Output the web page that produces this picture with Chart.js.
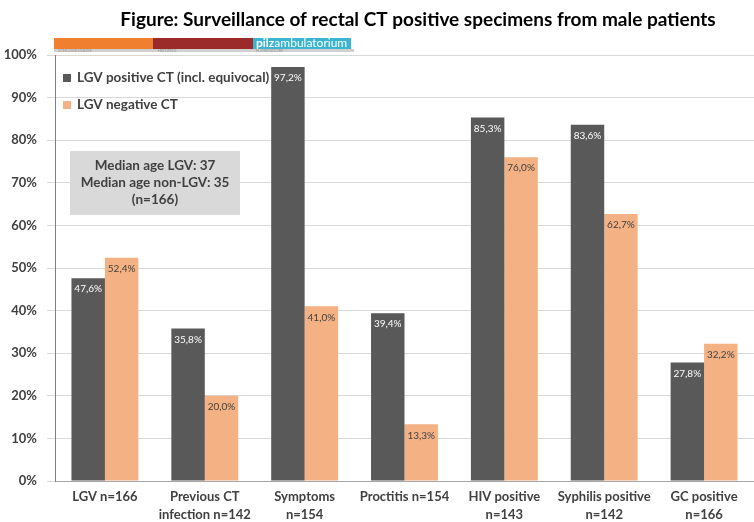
<!DOCTYPE html>
<html>
<head>
<meta charset="utf-8">
<script src="https://cdn.jsdelivr.net/npm/chart.js@4"></script>
<style>
  html,body{margin:0;padding:0;background:#fff;}
  #wrap{width:754px;height:522px;position:relative;}
</style>
</head>
<body>
<div id="wrap"><canvas id="chart" width="754" height="522"></canvas></div>
<script>
// DATA
const categories=[['LGV n=166'],['Previous CT','infection n=142'],['Symptoms','n=154'],['Proctitis n=154'],['HIV positive','n=143'],['Syphilis positive','n=142'],['GC positive','n=166']];
const lgvPositive=[47.6,35.8,97.2,39.4,85.3,83.6,27.8];
const lgvNegative=[52.4,20.0,41.0,13.3,76.0,62.7,32.2];
const seriesNames=['LGV positive CT (incl. equivocal)','LGV negative CT'];
const yTicks=[0,10,20,30,40,50,60,70,80,90,100];
const titleText='Figure: Surveillance of rectal CT positive specimens from male patients';
const boxLines=['Median age LGV: 37','Median age non-LGV: 35','(n=166)'];

const FONT='Lato,"Liberation Sans",Arial,sans-serif';
const DARK='#595959', PEACH='#F4B183', TXT='#404040';

// title, logo strip, legend and note box
const decor={
  id:'decor',
  afterDraw(chart){
    const c=chart.ctx;
    c.save();
    c.fillStyle='#000';
    c.font='bold 19px '+FONT;
    c.textAlign='center';c.textBaseline='middle';
    c.fillText(titleText,418,20);
    // logo strip
    c.fillStyle='#F08030';c.fillRect(54,38,99,11);
    c.fillStyle='#9B2B2B';c.fillRect(153,38,100,11);
    c.fillStyle='#3BB4CF';c.fillRect(253,38,98,11);
    c.fillStyle='#d0d0d0';c.fillRect(54,49,300,3);
    c.fillStyle='#fff';c.textAlign='left';
    c.font='bold 12px '+FONT;c.fillText('pilz',256,43.5);
    const w=c.measureText('pilz').width;
    c.font='12px '+FONT;c.fillText('ambulatorium',256+w,43.5);
    c.fillStyle='#999';c.font='4px '+FONT;
    c.fillText('SCHLÖSSELGASSE',58,51);c.fillText('HIETZING',158,51);c.fillText('FLORIDSDORF',256,51);
    // legend
    c.font='bold 13.5px '+FONT;c.textBaseline='middle';
    [DARK,PEACH].forEach((col,i)=>{
      const y=78+i*27;
      c.fillStyle=col;c.fillRect(63,y-4,8,8);
      c.fillStyle=TXT;c.fillText(seriesNames[i],77,y);
    });
    // note box
    c.fillStyle='#d9d9d9';c.fillRect(70,151,170,64);
    c.fillStyle=TXT;c.textAlign='center';c.font='bold 13.5px '+FONT;
    boxLines.forEach((t,i)=>c.fillText(t,155,166+i*17));
    c.restore();
  },
  afterDatasetsDraw(chart){
    const c=chart.ctx;
    c.save();
    c.font='10px '+FONT;c.textAlign='center';c.textBaseline='middle';
    chart.data.datasets.forEach((ds,di)=>{
      chart.getDatasetMeta(di).data.forEach((bar,i)=>{
        c.fillStyle=di===0?'#fff':TXT;
        c.fillText(ds.data[i].toFixed(1).replace('.',',')+'%',bar.x,bar.y+11);
      });
    });
    c.restore();
  }
};

new Chart(document.getElementById('chart'),{
  type:'bar',
  data:{labels:categories,datasets:[
    {label:seriesNames[0],data:lgvPositive,backgroundColor:DARK,categoryPercentage:0.67,barPercentage:1},
    {label:seriesNames[1],data:lgvNegative,backgroundColor:PEACH,categoryPercentage:0.67,barPercentage:1}
  ]},
  options:{
    responsive:false,animation:false,
    layout:{padding:{top:55,right:0,left:0,bottom:0}},
    plugins:{legend:{display:false},tooltip:{enabled:false}},
    scales:{
      x:{
        grid:{display:false,drawTicks:false,tickLength:0},
        border:{color:'#a6a6a6'},
        ticks:{color:TXT,font:{family:FONT,size:13,weight:'bold',lineHeight:1.4},maxRotation:0,autoSkip:false,padding:7},
        afterFit(s){s.height=41;}
      },
      y:{
        min:0,max:100,
        afterBuildTicks(s){s.ticks=yTicks.map(v=>({value:v}));},
        grid:{color:'#d9d9d9'},
        border:{color:'#7f7f7f'},
        ticks:{color:TXT,font:{family:FONT,size:13,weight:'bold'},callback:v=>v+'%',padding:10},
        afterFit(s){s.width=55;}
      }
    }
  },
  plugins:[decor]
});
</script>
</body>
</html>
